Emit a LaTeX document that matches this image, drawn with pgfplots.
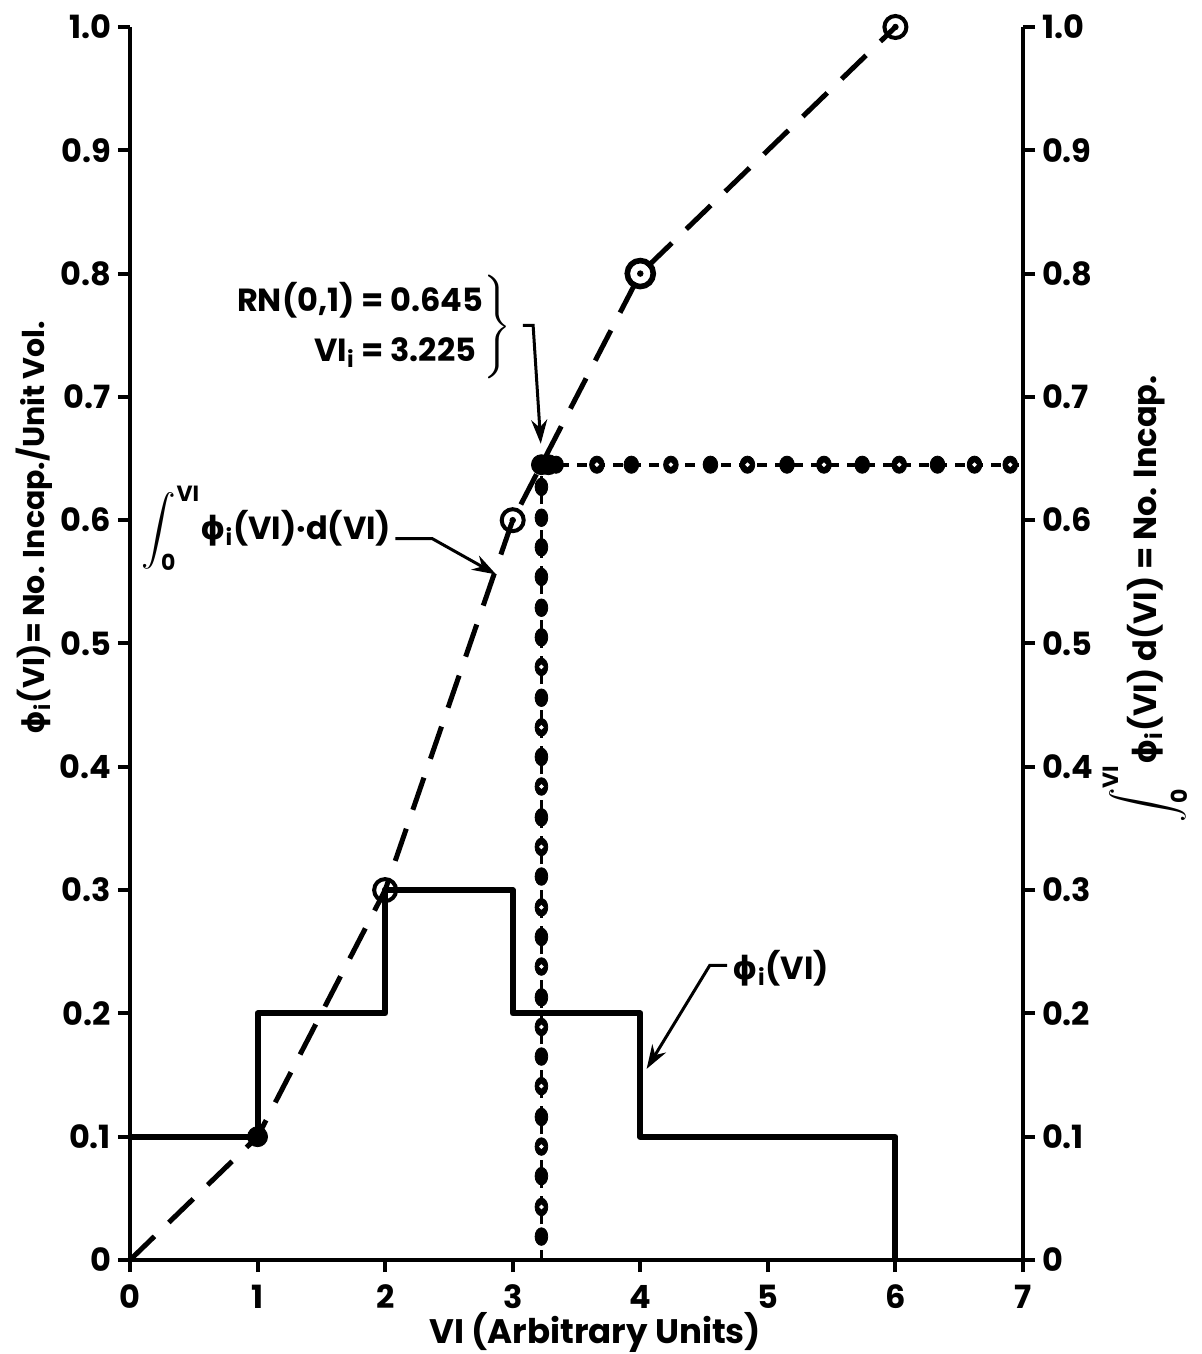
\documentclass[border=0pt]{standalone}
\usepackage{exscale}
\usepackage{fontspec}
\setmainfont{Poppins}
\newfontfamily\gfont{DejaVu Sans}
\usepackage{pgfplots}
\pgfplotsset{compat=1.18}
\usetikzlibrary{arrows.meta}

\newcommand{\phii}{{\gfont\bfseries ϕ}\textsubscript{i}}
\newcommand{\intvi}{$\displaystyle\int_{\mbox{\fontsize{11}{11}\selectfont\bfseries 0}}^{\mbox{\fontsize{11}{11}\selectfont\bfseries VI}}$}
\newcommand{\tf}{\fontsize{16}{19}\selectfont\bfseries}
\newcommand{\lf}{\fontsize{17}{20}\selectfont\bfseries}

\begin{document}
\begin{tikzpicture}
\pgfplotsset{
  every axis/.append style={
    scale only axis, width=446.5pt, height=616.5pt,
    xmin=0, xmax=7, ymin=0, ymax=1, clip=false,
    tick align=outside, major tick length=6pt,
    tick style={black, line width=2pt},
    axis line style={line width=2pt},
    tick label style={font=\tf},
    label style={font=\lf},
    ytick={0,0.1,0.2,0.3,0.4,0.5,0.6,0.7,0.8,0.9,1.0},
    yticklabels={0,0.1,0.2,0.3,0.4,0.5,0.6,0.7,0.8,0.9,1.0},
  }
}
\begin{axis}[
  axis x line*=bottom, axis y line*=left,
  xtick={0,1,2,3,4,5,6,7}, xticklabels={0,1,2,3,4,5,6,7},
  xticklabel style={yshift=-3pt},
  xlabel={VI (Arbitrary Units)},
  xlabel style={at={(axis description cs:0.521,0)}, anchor=center, yshift=-36pt},
  ylabel={\phii(VI)= No. Incap./Unit Vol.},
  ylabel style={at={(axis description cs:-0.0963,0.594)}, anchor=base, font=\fontsize{15}{18}\selectfont\bfseries},
]
% step function phi_i(VI)
\addplot[black, line width=3pt, line join=round] coordinates {
  (0,0.1) (1,0.1) (1,0.2) (2,0.2) (2,0.3) (3,0.3) (3,0.2) (4,0.2) (4,0.1) (6,0.1) (6,0)
};
% cumulative integral (dashed)
\addplot[black, line width=2.5pt, dash pattern=on 17pt off 10pt] coordinates {
  (0,0) (1,0.1) (2,0.3) (3,0.6) (4,0.8) (6,1.0)
};
% vertical dotted line at VI_i
\addplot[black, line width=1.8pt, dash pattern=on 5pt off 4pt] coordinates {(3.225,0) (3.225,0.645)};
\addplot[black, only marks, mark=*, mark size=4.4pt, mark options={xscale=0.72}] coordinates {
  (3.225,0.019) (3.225,0.043) (3.225,0.068) (3.225,0.092) (3.225,0.116) (3.225,0.141)
  (3.225,0.165) (3.225,0.189) (3.225,0.213) (3.225,0.238) (3.225,0.262) (3.225,0.286)
  (3.225,0.311) (3.225,0.335) (3.225,0.359) (3.225,0.384) (3.225,0.408) (3.225,0.432)
  (3.225,0.456) (3.225,0.481) (3.225,0.505) (3.225,0.529) (3.225,0.554) (3.225,0.578)
  (3.225,0.602) (3.225,0.627)
};
% horizontal dotted line at RN
\addplot[black, line width=1.8pt, dash pattern=on 5pt off 4pt] coordinates {(3.225,0.645) (7,0.645)};
\addplot[black, only marks, mark=*, mark size=4.3pt, mark options={xscale=0.85}] coordinates {
  (3.34,0.645) (3.66,0.645) (3.93,0.645) (4.24,0.645) (4.55,0.645) (4.84,0.645)
  (5.15,0.645) (5.44,0.645) (5.74,0.645) (6.03,0.645) (6.33,0.645) (6.62,0.645) (6.90,0.645)
};
\addplot[white, only marks, mark=*, mark size=0.9pt] coordinates {
  (3.66,0.645) (4.24,0.645) (4.84,0.645) (5.44,0.645) (6.03,0.645) (6.62,0.645) (6.90,0.645)
  (3.225,0.043) (3.225,0.092) (3.225,0.141) (3.225,0.189) (3.225,0.238) (3.225,0.286)
  (3.225,0.335) (3.225,0.384) (3.225,0.432) (3.225,0.481)
};
% junction
\addplot[black, only marks, mark=*, mark size=5pt] coordinates {(3.225,0.645) (3.28,0.645)};
% data point markers on the cumulative curve
\addplot[black, only marks, mark=*, mark size=5pt] coordinates {(1,0.1)};
\addplot[black, only marks, mark=o, mark size=5.5pt, mark options={line width=2pt, fill=white}] coordinates {
  (2,0.3) (3,0.6) (6,1.0)
};
\addplot[black, only marks, mark=o, mark size=6.5pt, mark options={line width=2.8pt, fill=white}] coordinates {(4,0.8)};
\addplot[black, only marks, mark=*, mark size=1.4pt] coordinates {(2,0.3) (3,0.6) (4,0.8) (6,1.0)};

% annotations
\def\arraystretch{1.3}
\node[anchor=east, font=\tf, inner sep=0pt] at (axis cs:2.99,0.757)
  {$\left.\begin{tabular}{@{}r@{ = }l@{}}RN(0,1) & 0.645\\ VI\textsubscript{i} & 3.225\end{tabular}\right\}$};
\draw[black, line width=1.5pt, -{Stealth[length=12pt,width=8pt]}]
  (axis cs:3.08,0.758) -- (axis cs:3.16,0.758) -- (axis cs:3.22,0.662);

\node[anchor=base east, font=\tf, inner sep=0pt] at (axis cs:2.05,0.584)
  {\intvi\phii(VI)·d(VI)};
\draw[black, line width=1.5pt, -{Stealth[length=12pt,width=8pt]}]
  (axis cs:2.08,0.585) -- (axis cs:2.37,0.585) -- (axis cs:2.87,0.556);

\node[anchor=west, font=\tf, inner sep=0pt] at (axis cs:4.72,0.237) {\phii(VI)};
\draw[black, line width=1.5pt, -{Stealth[length=12pt,width=8pt]}]
  (axis cs:4.68,0.239) -- (axis cs:4.545,0.239) -- (axis cs:4.05,0.155);
\end{axis}

\begin{axis}[
  axis y line*=right, axis x line=none,
  ylabel={\intvi\phii(VI) d(VI) = No. Incap.},
  ylabel style={at={(axis description cs:1.150,0.536)}, anchor=base, font=\tf},
]
\end{axis}
\pgfresetboundingbox
\useasboundingbox (-65pt,-47pt) rectangle (535.5pt,630pt);
\end{tikzpicture}
\end{document}
